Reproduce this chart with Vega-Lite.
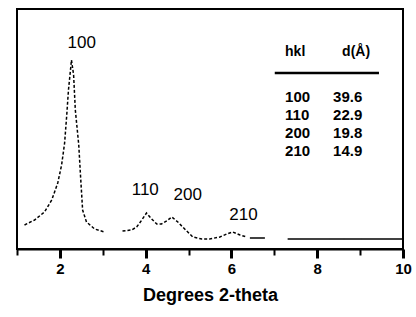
{
  "$schema": "https://vega.github.io/schema/vega-lite/v6.json",
  "autosize": "none",
  "width": 386,
  "height": 240,
  "padding": {"left": 17, "top": 9, "right": 13, "bottom": 68},
  "config": {
    "font": "Liberation Sans",
    "view": {"stroke": "black", "strokeWidth": 2}
  },
  "datasets": {
    "curve": [
      {"x": 1.175, "y": 24, "seg": "a", "style": "dash"},
      {"x": 1.41, "y": 29, "seg": "a", "style": "dash"},
      {"x": 1.64, "y": 37, "seg": "a", "style": "dash"},
      {"x": 1.81, "y": 49, "seg": "a", "style": "dash"},
      {"x": 1.95, "y": 66, "seg": "a", "style": "dash"},
      {"x": 2.04, "y": 84, "seg": "a", "style": "dash"},
      {"x": 2.11, "y": 106, "seg": "a", "style": "dash"},
      {"x": 2.16, "y": 134, "seg": "a", "style": "dash"},
      {"x": 2.2, "y": 159, "seg": "a", "style": "dash"},
      {"x": 2.27, "y": 189, "seg": "a", "style": "dash"},
      {"x": 2.32, "y": 174, "seg": "a", "style": "dash"},
      {"x": 2.36, "y": 139, "seg": "a", "style": "dash"},
      {"x": 2.44, "y": 104, "seg": "a", "style": "dash"},
      {"x": 2.48, "y": 74, "seg": "a", "style": "dash"},
      {"x": 2.53, "y": 39, "seg": "a", "style": "dash"},
      {"x": 2.62, "y": 27, "seg": "a", "style": "dash"},
      {"x": 2.81, "y": 20, "seg": "a", "style": "dash"},
      {"x": 3.04, "y": 17, "seg": "a", "style": "dash"},
      {"x": 3.46, "y": 18, "seg": "b", "style": "dash"},
      {"x": 3.67, "y": 19, "seg": "b", "style": "dash"},
      {"x": 3.79, "y": 22, "seg": "b", "style": "dash"},
      {"x": 3.91, "y": 29, "seg": "b", "style": "dash"},
      {"x": 4.02, "y": 36, "seg": "b", "style": "dash"},
      {"x": 4.14, "y": 30, "seg": "b", "style": "dash"},
      {"x": 4.26, "y": 25, "seg": "b", "style": "dash"},
      {"x": 4.37, "y": 25, "seg": "b", "style": "dash"},
      {"x": 4.49, "y": 28, "seg": "b", "style": "dash"},
      {"x": 4.61, "y": 32, "seg": "b", "style": "dash"},
      {"x": 4.75, "y": 27, "seg": "b", "style": "dash"},
      {"x": 4.91, "y": 20, "seg": "b", "style": "dash"},
      {"x": 5.1, "y": 12, "seg": "b", "style": "dash"},
      {"x": 5.31, "y": 10, "seg": "b", "style": "dash"},
      {"x": 5.49, "y": 10, "seg": "b", "style": "dash"},
      {"x": 5.73, "y": 12, "seg": "b", "style": "dash"},
      {"x": 5.89, "y": 15, "seg": "b", "style": "dash"},
      {"x": 6.03, "y": 17, "seg": "b", "style": "dash"},
      {"x": 6.2, "y": 14, "seg": "b", "style": "dash"},
      {"x": 6.36, "y": 12, "seg": "b", "style": "dash"},
      {"x": 6.43, "y": 11, "seg": "c", "style": "solid"},
      {"x": 6.78, "y": 11, "seg": "c", "style": "solid"},
      {"x": 7.31, "y": 10, "seg": "d", "style": "solid"},
      {"x": 10, "y": 10, "seg": "d", "style": "solid"}
    ],
    "peaks": [
      {"x": 2.51, "y": 206, "label": "100"},
      {"x": 3.99, "y": 59, "label": "110"},
      {"x": 4.98, "y": 54, "label": "200"},
      {"x": 6.28, "y": 34, "label": "210"}
    ],
    "table": [
      {"x": 7.25, "y": 197, "text": "hkl", "kind": "head"},
      {"x": 8.58, "y": 197, "text": "d(Å)", "kind": "head"},
      {"x": 7.25, "y": 152, "text": "100", "kind": "row"},
      {"x": 8.37, "y": 152, "text": "39.6", "kind": "row"},
      {"x": 7.25, "y": 134, "text": "110", "kind": "row"},
      {"x": 8.37, "y": 134, "text": "22.9", "kind": "row"},
      {"x": 7.25, "y": 116, "text": "200", "kind": "row"},
      {"x": 8.37, "y": 116, "text": "19.8", "kind": "row"},
      {"x": 7.25, "y": 98, "text": "210", "kind": "row"},
      {"x": 8.37, "y": 98, "text": "14.9", "kind": "row"}
    ],
    "rule": [
      {"x": 7.01, "x2": 9.44, "y": 176}
    ]
  },
  "layer": [
    {
      "data": {"name": "curve"},
      "mark": {"type": "line", "color": "black", "strokeWidth": 1.5},
      "encoding": {
        "x": {
          "field": "x", "type": "quantitative",
          "scale": {"domain": [1, 10], "nice": false, "zero": false},
          "axis": {
            "values": [1, 2, 3, 4, 5, 6, 7, 8, 9, 10],
            "labelExpr": "datum.value % 2 == 0 ? datum.label : ''",
            "grid": false,
            "domainColor": "black",
            "domainWidth": 2,
            "tickColor": "black",
            "tickWidth": {"condition": {"test": "datum.value % 2 == 0", "value": 3}, "value": 2},
            "tickSize": {"condition": {"test": "datum.value % 2 == 0", "value": 9}, "value": 6},
            "labelFont": "Liberation Sans",
            "labelFontSize": 15,
            "labelFontWeight": "bold",
            "labelColor": "black",
            "labelPadding": 3,
            "labelFlush": false,
            "title": "Degrees 2-theta",
            "titleFont": "Liberation Sans",
            "titleFontSize": 18,
            "titleFontWeight": "bold",
            "titleColor": "black",
            "titlePadding": 10
          }
        },
        "y": {
          "field": "y", "type": "quantitative",
          "scale": {"domain": [0, 240], "nice": false},
          "axis": null
        },
        "detail": {"field": "seg"},
        "strokeDash": {
          "field": "style", "type": "nominal",
          "scale": {"domain": ["dash", "solid"], "range": [[3, 2], [1, 0]]},
          "legend": null
        }
      }
    },
    {
      "data": {"name": "peaks"},
      "mark": {"type": "text", "fontSize": 17, "color": "black", "align": "center", "baseline": "middle"},
      "encoding": {
        "x": {"field": "x", "type": "quantitative"},
        "y": {"field": "y", "type": "quantitative"},
        "text": {"field": "label"}
      }
    },
    {
      "data": {"name": "table"},
      "mark": {"type": "text", "color": "black", "align": "left", "baseline": "middle", "fontWeight": "bold"},
      "encoding": {
        "x": {"field": "x", "type": "quantitative"},
        "y": {"field": "y", "type": "quantitative"},
        "text": {"field": "text"},
        "size": {
          "field": "kind", "type": "nominal",
          "scale": {"domain": ["head", "row"], "range": [14, 15]},
          "legend": null
        }
      }
    },
    {
      "data": {"name": "rule"},
      "mark": {"type": "rule", "color": "black", "strokeWidth": 2.5},
      "encoding": {
        "x": {"field": "x", "type": "quantitative"},
        "x2": {"field": "x2"},
        "y": {"field": "y", "type": "quantitative"}
      }
    }
  ]
}
